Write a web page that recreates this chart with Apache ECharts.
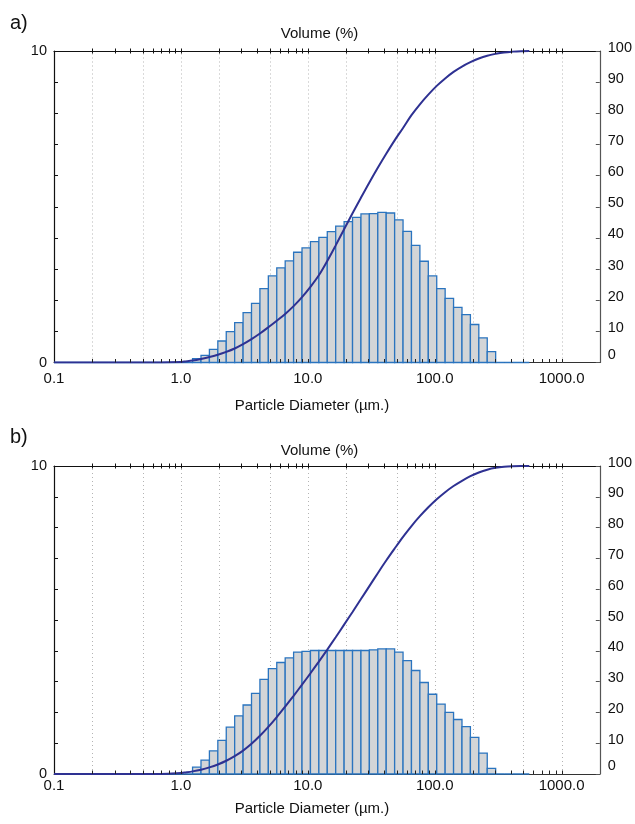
<!DOCTYPE html>
<html>
<head>
<meta charset="utf-8">
<script src="https://cdn.jsdelivr.net/npm/echarts@6/dist/echarts.min.js"></script>
<style>
html,body{margin:0;padding:0;background:#fff;}
#c{width:635px;height:824px;}
</style>
</head>
<body>
<div id="c"></div>
<script>
// Size-class edges (µm)
const binEdges = [0.0921,0.1073,0.125,0.1456,0.1697,0.1977,0.2303,0.2683,0.3125,0.3641,0.4242,0.4942,0.5758,0.6708,0.7815,0.9106,
  1.0608,1.2359,1.4399,1.6775,1.9544,2.2770,2.6528,3.0906,3.6007,4.1950,4.8874,5.6940,6.6338,7.7287,9.0043,
  10.4904,12.2218,14.2390,16.5891,19.3270,22.5168,26.2332,30.5628,35.6070,41.4838,48.3305,56.3073,65.6007,76.4278,89.0420,
  103.7380,120.8596,140.8071,164.0469,191.1223,222.6665,259.4168,302.2327,352.1151,410.2304,477.9372,556.8183];

// Volume % per class (panel a)
const volA = [0,0,0,0,0,0,0,0,0,0,0,0,0,0,0,0,0,
  0.12,0.23,0.42,0.69,0.99,1.28,1.60,1.90,2.37,2.78,
  3.04,3.26,3.54,3.68,3.88,4.02,4.20,4.38,4.52,4.66,
  4.77,4.78,4.82,4.80,4.58,4.21,3.76,3.25,2.78,2.37,2.06,1.77,1.54,1.22,0.79,0.35,
  0,0,0,0];

// Volume % per class (panel b)
const volB = [0,0,0,0,0,0,0,0,0,0,0,0,0,0,0,0,0,
  0.22,0.45,0.75,1.09,1.52,1.89,2.24,2.62,3.07,3.42,
  3.62,3.77,3.96,3.98,4.01,4.01,4.01,4.01,4.01,4.01,
  4.01,4.03,4.06,4.06,3.96,3.68,3.36,2.97,2.59,2.27,2.00,1.77,1.54,1.19,0.68,0.18,
  0,0,0,0];

// Cumulative curve sample diameters (µm) and cumulative volume (%)
const curveX = [0.1,0.7,1.0,1.0608,1.2359,1.4399,1.6775,1.9544,2.2770,2.6528,3.0906,3.6007,4.1950,4.8874,5.6940,6.6338,7.7287,9.0043,
  10.4904,12.2218,14.2390,16.5891,19.3270,22.5168,26.2332,30.5628,35.6070,41.4838,48.3305,56.3073,65.6007,76.4278,89.0420,
  103.7380,120.8596,140.8071,164.0469,191.1223,222.6665,259.4168,302.2327,352.1151,410.2304,477.9372,556.8183];
const cumA = [0,0,0.15,0.3,0.65,1.15,1.75,2.5,3.4,4.5,5.9,7.5,9.3,11.3,13.4,15.6,18.1,21.0,
  24.3,28.0,32.6,37.6,42.8,47.9,52.9,57.8,62.5,67.0,71.3,75.3,79.4,82.9,86.0,
  88.8,91.2,93.3,95.0,96.4,97.6,98.5,99.1,99.55,99.8,99.95,100];
const cumB = [0,0,0.3,0.45,0.85,1.4,2.15,3.1,4.3,5.8,7.6,9.8,12.4,15.3,18.5,21.9,25.4,29.0,
  32.7,36.5,40.4,44.4,48.5,52.6,56.8,61.0,65.2,69.3,73.2,77.0,80.5,83.7,86.6,
  89.2,91.5,93.5,95.2,96.7,97.9,98.8,99.4,99.75,99.92,100,100];

const gridLineX = [0.2,0.5,1,2,5,10,20,50,100,200,500,1000];
const minorTickX = [0.2,0.3,0.4,0.5,0.6,0.7,0.8,0.9,1,2,3,4,5,6,7,8,9,10,20,30,40,50,60,70,80,90,100,200,300,400,500,600,700,800,900,1000];
const decadeX = [0.1,1,10,100,1000];
const decadeLabels = ['0.1','1.0','10.0','100.0','1000.0'];
const leftTicks = ['0','10'];
const panelLabels = ['a)','b)'];
const yTitle = 'Volume (%)';
const xTitle = 'Particle Diameter (µm.)';

const FONT = '"Liberation Sans", Arial, sans-serif';
const chart = echarts.init(document.getElementById('c'), null, {renderer:'canvas'});

function xFmt(v){
  for (let i=0;i<decadeX.length;i++){ if (Math.abs(Math.log10(v)-Math.log10(decadeX[i]))<1e-6) return decadeLabels[i]; }
  return '';
}
function barData(vals){ return vals.map((v,i)=>[binEdges[i], binEdges[i+1], v]); }
function curveData(c){ return curveX.map((x,i)=>[x, c[i]]); }

function barRender(params, api){
  const lo=api.value(0), hi=api.value(1), v=api.value(2);
  const cs=params.coordSys;
  const p0=api.coord([lo, v]); const p1=api.coord([hi, 0]);
  const x0=Math.max(p0[0], cs.x);
  return {type:'rect', shape:{x:x0, y:p0[1], width:p1[0]-x0, height:p1[1]-p0[1]},
    style:{fill:'#d3d5d7', stroke:'#2a74bf', lineWidth:1.3}};
}
function gridRender(params, api){
  const v=api.value(0);
  const a=api.coord([v,0]), b=api.coord([v,10]);
  return {type:'line', shape:{x1:Math.round(a[0])+0.5,y1:a[1],x2:Math.round(a[0])+0.5,y2:b[1]},
    style:{stroke:'#b4b4b4', lineWidth:1, lineDash:[1,3]}};
}
function tickRender(params, api){
  const v=api.value(0);
  const t=api.coord([v,10]), b=api.coord([v,0]);
  const x=Math.round(t[0])+0.5;
  return {type:'group', children:[
    {type:'line', shape:{x1:x,y1:t[1]-2.5,x2:x,y2:t[1]+2.5}, style:{stroke:'#111', lineWidth:1}},
    {type:'line', shape:{x1:x,y1:b[1],x2:x,y2:b[1]-3.5}, style:{stroke:'#222', lineWidth:1}}
  ]};
}

const grids = [
  {left:54, top:51, width:546.5, height:311.5, labelMargin:9, nameTop:406, titleY:34, panelY:25},
  {left:54, top:466, width:546.5, height:308, labelMargin:4, nameTop:809, titleY:451, panelY:439}
];

const option = {
  animation:false,
  backgroundColor:'#fff',
  textStyle:{fontFamily:FONT},
  grid: grids.map(g=>({left:g.left, top:g.top, width:g.width, height:g.height, containLabel:false})),
  xAxis: [],
  yAxis: [],
  series: [],
  graphic: []
};

grids.forEach((g,gi)=>{
  option.xAxis.push({gridIndex:gi, type:'log', logBase:10, position:'bottom', min:0.1, max:2000,
    axisLine:{show:true, onZero:false, lineStyle:{color:'#333', width:1}},
    axisTick:{show:false}, splitLine:{show:false},
    axisLabel:{formatter:xFmt, fontSize:15, color:'#111', margin:g.labelMargin, fontFamily:FONT, showMaxLabel:false}});
  option.xAxis.push({gridIndex:gi, type:'log', logBase:10, position:'top', min:0.1, max:2000,
    axisLine:{show:true, onZero:false, lineStyle:{color:'#111', width:1.2}},
    axisTick:{show:false}, splitLine:{show:false}, axisLabel:{show:false}});
  option.yAxis.push({gridIndex:gi, type:'value', position:'left', min:0, max:10, interval:1,
    axisLine:{show:true, onZero:false, lineStyle:{color:'#111', width:1.2}},
    axisTick:{show:true, inside:true, length:4, lineStyle:{color:'#111'}},
    splitLine:{show:false},
    axisLabel:{formatter:v=>(v===0?leftTicks[0]:(v===10?leftTicks[1]:'')), fontSize:14.5, color:'#111', margin:7, padding:[0,0,9,0], fontFamily:FONT}});
  option.yAxis.push({gridIndex:gi, type:'value', position:'right', min:0, max:100, interval:10,
    axisLine:{show:true, onZero:false, lineStyle:{color:'#555', width:1.2}},
    axisTick:{show:true, inside:true, length:4, lineStyle:{color:'#555'}},
    splitLine:{show:false},
    axisLabel:{formatter:v=>(v===0?'{z|0}':String(v)), fontSize:14.5, color:'#111', margin:8, padding:[0,0,7,0], fontFamily:FONT,
      rich:{z:{fontSize:14.5, color:'#111', fontFamily:FONT, padding:[0,0,9,0]}}}});

  const xi=gi*2, yl=gi*2, yr=gi*2+1;
  option.series.push({type:'custom', name:'grid'+gi, xAxisIndex:xi, yAxisIndex:yl, z:1, silent:true,
    dimensions:['x'], encode:{x:0}, renderItem:gridRender, data:gridLineX.map(v=>[v])});
  option.series.push({type:'custom', name:'bars'+gi, xAxisIndex:xi, yAxisIndex:yl, z:2, silent:true,
    dimensions:['lo','hi','v'], encode:{x:[0,1], y:2}, renderItem:barRender, data:barData(gi===0?volA:volB)});
  option.series.push({type:'line', name:'cum'+gi, xAxisIndex:xi, yAxisIndex:yr, z:3, silent:true,
    smooth:0.35, showSymbol:false, symbol:'none',
    lineStyle:{color:'#2e3192', width:2}, data:curveData(gi===0?cumA:cumB)});
  option.series.push({type:'custom', name:'ticks'+gi, xAxisIndex:xi, yAxisIndex:yl, z:4, silent:true,
    dimensions:['x'], encode:{x:0}, renderItem:tickRender, data:minorTickX.map(v=>[v])});

  option.graphic.push({type:'text', left:10, top:g.panelY-12, style:{text:panelLabels[gi], font:'20px '+FONT, fill:'#111'}});
  option.graphic.push({type:'text', x:319.5, y:g.titleY, style:{text:yTitle, font:'15px '+FONT, fill:'#111', align:'center', verticalAlign:'middle'}});
  option.graphic.push({type:'text', x:312, y:g.nameTop, style:{text:xTitle, font:'15px '+FONT, fill:'#111', align:'center', verticalAlign:'middle'}});
});

chart.setOption(option);
</script>
</body>
</html>
